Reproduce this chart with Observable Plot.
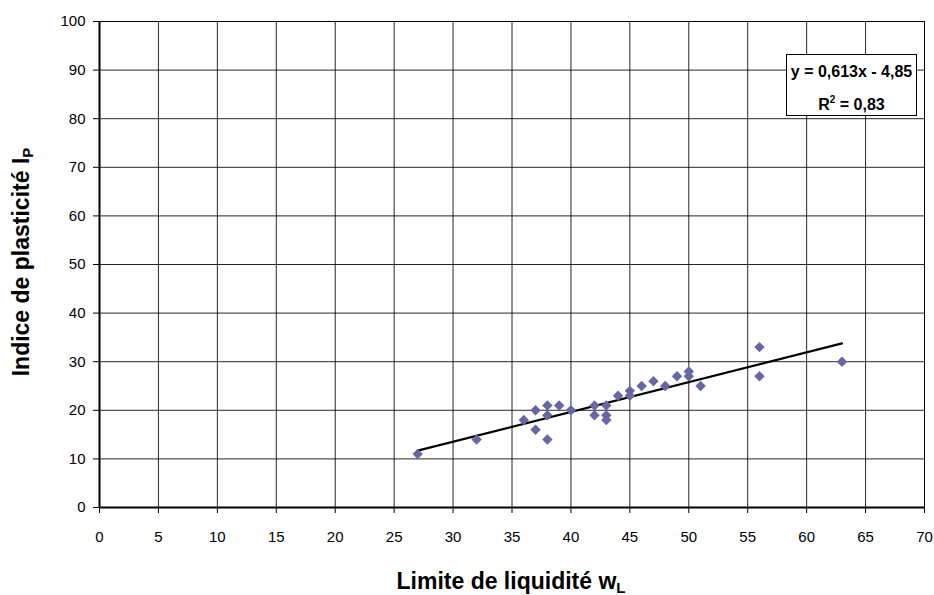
<!DOCTYPE html>
<html>
<head>
<meta charset="utf-8">
<script src="https://cdn.jsdelivr.net/npm/d3@7"></script>
<script src="https://cdn.jsdelivr.net/npm/@observablehq/plot@0.6"></script>
<style>
  body { margin: 0; background: #fff; }
  #wrap { position: relative; width: 934px; height: 595px; }
  #eq { position: absolute; left: 786px; top: 54px; width: 131px; height: 62px; box-sizing: border-box;
        border: 1px solid #000; background: #fff; font: bold 16px "Liberation Sans", Arial, sans-serif;
        text-align: center; line-height: 28px; padding-top: 3px; color: #000; white-space: nowrap; }
</style>
</head>
<body>
<div id="wrap"></div>
<script>
const liquidLimit = [27, 32, 36, 37, 37, 38, 38, 38, 39, 40, 42, 42, 43, 43, 43, 44, 45, 45, 46, 47, 48, 49, 50, 50, 51, 56, 56, 63];
const plasticIndex = [11, 14, 18, 20, 16, 21, 19, 14, 21, 20, 21, 19, 21, 19, 18, 23, 24, 23, 25, 26, 25, 27, 28, 27, 25, 33, 27, 30];
const xTicks = [0, 5, 10, 15, 20, 25, 30, 35, 40, 45, 50, 55, 60, 65, 70];
const yTicks = [0, 10, 20, 30, 40, 50, 60, 70, 80, 90, 100];
const trendSlope = 0.613;
const trendIntercept = -4.85;
const trendRange = [27, 63];
const r2 = 0.83;

const points = liquidLimit.map((x, i) => ({x, y: plasticIndex[i]}));
const trend = trendRange.map(x => ({x, y: trendSlope * x + trendIntercept}));

const font = "'Liberation Sans', Arial, sans-serif";
const chart = Plot.plot({
  width: 934, height: 595,
  marginLeft: 99, marginRight: 10, marginTop: 21, marginBottom: 88,
  style: {fontFamily: font, fontSize: "15px", color: "#000", background: "#fff"},
  x: {domain: [0, 70]},
  y: {domain: [0, 100]},
  marks: [
    Plot.gridX(xTicks, {stroke: "#000", strokeOpacity: 0.85}),
    Plot.gridY(yTicks, {stroke: "#000", strokeOpacity: 0.85}),
    Plot.frame({stroke: "#000"}),
    Plot.axisX({ticks: xTicks, tickSize: 6, tickPadding: 18, fontSize: 15, label: null}),
    Plot.axisY({ticks: yTicks, tickSize: 6, tickPadding: 8, fontSize: 15, label: null}),
    Plot.ruleX([0], {stroke: "#000", strokeWidth: 2}),
    Plot.ruleY([0], {stroke: "#000", strokeWidth: 2}),
    Plot.line(trend, {x: "x", y: "y", stroke: "#000", strokeWidth: 2.2}),
    Plot.dot(points, {x: "x", y: "y", symbol: "diamond2", r: 4.7, fill: "#6767A3", stroke: "none"})
  ]
});

document.getElementById("wrap").appendChild(chart);
const svg = d3.select(chart);

const xl = svg.append("text")
  .attr("x", 511).attr("y", 589).attr("text-anchor", "middle")
  .attr("font-family", font).attr("font-size", 23).attr("font-weight", "bold");
xl.append("tspan").text("Limite de liquidité w");
xl.append("tspan").attr("font-size", 15).attr("dy", 4).text("L");

const yl = svg.append("text")
  .attr("transform", "translate(29,262) rotate(-90)").attr("text-anchor", "middle")
  .attr("font-family", font).attr("font-size", 23).attr("font-weight", "bold");
yl.append("tspan").text("Indice de plasticité I");
yl.append("tspan").attr("font-size", 15).attr("dy", 4).text("P");

const eq = document.createElement("div");
eq.id = "eq";
const fmt = v => String(v).replace(".", ",");
eq.innerHTML = `y = ${fmt(trendSlope)}x - ${fmt(Math.abs(trendIntercept))}<br>R<sup style="font-size:10px;vertical-align:7px">2</sup> = ${fmt(r2)}`;
document.getElementById("wrap").appendChild(eq);
</script>
</body>
</html>
